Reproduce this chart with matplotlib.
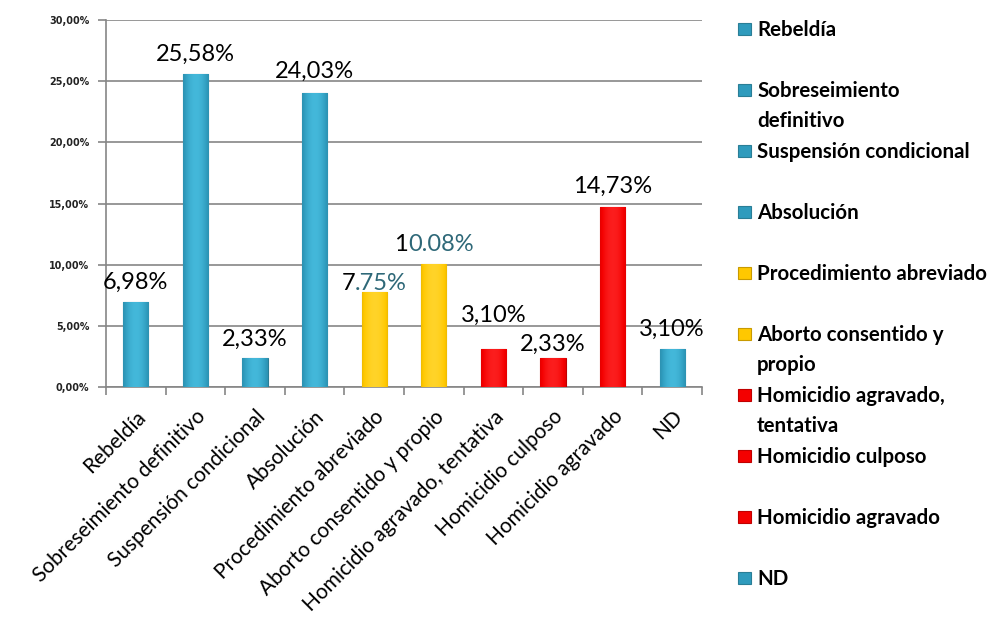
import numpy as np
import matplotlib
matplotlib.use("Agg")
import matplotlib.pyplot as plt
from matplotlib.patches import Rectangle
from matplotlib.offsetbox import TextArea, HPacker, AnnotationBbox
from matplotlib.colors import LinearSegmentedColormap

categories = ["Rebeldía", "Sobreseimiento definitivo", "Suspensión condicional",
              "Absolución", "Procedimiento abreviado", "Aborto consentido y propio",
              "Homicidio agravado, tentativa", "Homicidio culposo",
              "Homicidio agravado", "ND"]
legend_labels = ["Rebeldía", "Sobreseimiento\ndefinitivo", "Suspensión condicional",
                 "Absolución", "Procedimiento abreviado", "Aborto consentido y\npropio",
                 "Homicidio agravado,\ntentativa", "Homicidio culposo",
                 "Homicidio agravado", "ND"]
values = [6.98, 25.58, 2.33, 24.03, 7.75, 10.08, 3.10, 2.33, 14.73, 3.10]
# label parts: (black part, teal part)
label_parts = [("6,98%", ""), ("25,58%", ""), ("2,33%", ""), ("24,03%", ""),
               ("7", ".75%"), ("1", "0.08%"), ("3,10%", ""), ("2,33%", ""),
               ("14,73%", ""), ("3,10%", "")]
groups = ["blue", "blue", "blue", "blue", "yellow", "yellow", "red", "red", "red", "blue"]
yticks = [0, 5, 10, 15, 20, 25, 30]
ytick_labels = ["0,00%", "5,00%", "10,00%", "15,00%", "20,00%", "25,00%", "30,00%"]

# layout: vertical gap (pixels) between bar top and its label
label_gap_px = [9, 9, 9, 11, -2, 9, 23, 4, 10, 9]

palette = {
    "blue": ("#4CC4E6", "#2F9BBD", "#2A7E96"),
    "yellow": ("#FFD83A", "#FFC800", "#C89A00"),
    "red": ("#FF2A2A", "#F40000", "#C00000"),
}

FONT = "Lato"
plt.rcParams["font.family"] = [FONT, "DejaVu Sans"]

W, H = 1003, 622
fig = plt.figure(figsize=(W / 100, H / 100), dpi=100)
ax = fig.add_axes([106 / W, 1 - 387 / H, (702 - 106) / W, (387 - 20) / H])

x = np.arange(len(categories))
bars = ax.bar(x, values, width=0.42, color=[palette[g][1] for g in groups],
              edgecolor=[palette[g][2] for g in groups], linewidth=0.8, zorder=3)

# horizontal shading overlay clipped to each bar (lighter centre, darker edges)
for b, g in zip(bars, groups):
    top, mid, edge = palette[g]
    cmap = LinearSegmentedColormap.from_list("c", [edge, mid, top])
    bx, by, bw, bh = b.get_x(), b.get_y(), b.get_width(), b.get_height()
    prof = 1 - np.abs(np.linspace(-1, 1, 64)) ** 2
    img = np.vstack([prof * 0.5 + 0.35] * 2)
    im = ax.imshow(img, extent=[bx, bx + bw, by, by + bh], aspect="auto", cmap=cmap,
                   vmin=0, vmax=1, zorder=3.5, origin="lower")
    im.set_clip_path(b)

ax.set_xlim(-0.5, len(categories) - 0.5)
ax.set_ylim(0, 30)
ax.set_yticks(yticks)
ax.set_yticklabels(ytick_labels, fontsize=6.9, fontweight="bold", color="#222222",
                   family="DejaVu Sans")
ax.yaxis.grid(True, color="#868686", linewidth=1.2, zorder=0)
ax.set_axisbelow(True)

ax.set_xticks(np.arange(-0.5, len(categories), 1.0))
ax.set_xticklabels([])
ax.set_xticks(x, minor=True)
ax.set_xticklabels(categories, minor=True, rotation=45, ha="right",
                   rotation_mode="anchor", fontsize=15)
ax.tick_params(axis="x", which="minor", length=0, pad=14)
ax.tick_params(axis="x", which="major", length=6, color="#868686", width=1.2)
ax.tick_params(axis="y", length=6, color="#868686", width=1.2, pad=6)

for s in ["top", "right"]:
    ax.spines[s].set_visible(False)
for s in ["left", "bottom"]:
    ax.spines[s].set_color("#868686")
    ax.spines[s].set_linewidth(1.2)

# data labels
for xi, v, (p1, p2), gap in zip(x, values, label_parts, label_gap_px):
    children = [TextArea(p1, textprops=dict(fontsize=17, color="black", family=FONT))]
    if p2:
        children.append(TextArea(p2, textprops=dict(fontsize=17, color="#2E6878", family=FONT)))
    pack = HPacker(children=children, pad=0, sep=0, align="baseline")
    ab = AnnotationBbox(pack, (xi, v), xybox=(0, gap * 0.72), xycoords="data",
                        boxcoords="offset points", box_alignment=(0.5, 0),
                        frameon=False, pad=0, annotation_clip=False)
    ax.add_artist(ab)

# manual legend (entries evenly spaced, wrapped lines inside the spacing)
first_baseline, step, line_step = 36, 61, 30
for i, (lab, g) in enumerate(zip(legend_labels, groups)):
    base = first_baseline + i * step
    fig.patches.append(Rectangle((738 / W, 1 - (base - 1) / H), 13 / W, 12 / H,
                                 transform=fig.transFigure, facecolor=palette[g][1],
                                 edgecolor=palette[g][2], linewidth=0.8))
    for j, line in enumerate(lab.split("\n")):
        fig.text(757 / W, 1 - (base + j * line_step) / H, line, fontsize=14.8,
                 fontweight="bold", va="baseline", ha="left", color="black")

fig.savefig("out.png", dpi=100)
